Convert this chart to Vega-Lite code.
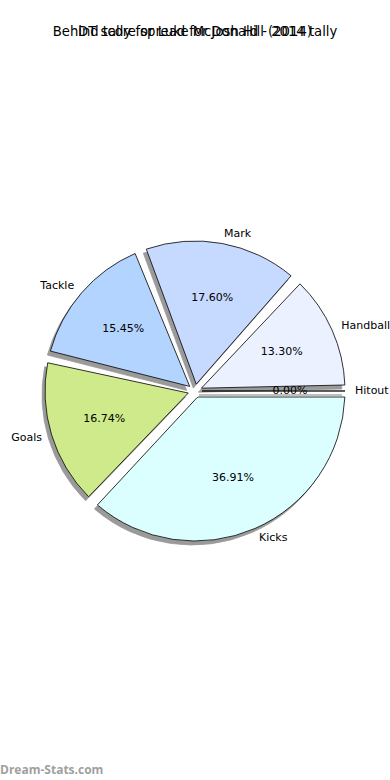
{
  "$schema": "https://vega.github.io/schema/vega-lite/v6.json",
  "padding": {"top": 24, "left": 0, "right": 0, "bottom": 0},
  "autosize": {"type": "pad"},
  "background": "white",
  "title": {
    "text": "Behind tally for Luke McDonald - 2014 tally",
    "subtitle": "DT score spread for Josh Hill (2014)",
    "font": "DejaVu Sans",
    "subtitleFont": "DejaVu Sans",
    "fontSize": 13.2,
    "subtitleFontSize": 13.2,
    "fontWeight": "normal",
    "color": "black",
    "subtitleColor": "black",
    "subtitlePadding": -13.2,
    "anchor": "middle",
    "offset": 12
  },
  "datasets": {
    "slices": [
      {"category": "Handball", "value": 0.1330, "idx": 1},
      {"category": "Mark", "value": 0.1760, "idx": 2},
      {"category": "Tackle", "value": 0.1545, "idx": 3},
      {"category": "Goals", "value": 0.1674, "idx": 4},
      {"category": "Kicks", "value": 0.3691, "idx": 5},
      {"category": "Hitout", "value": 0.0, "idx": 6}
    ]
  },
  "vconcat": [
    {
      "width": 390,
      "height": 680,
      "data": {"name": "slices"},
      "title": {
        "text": "Dream-Stats.com",
        "orient": "bottom",
        "anchor": "start",
        "frame": "group",
        "font": "Open Sans",
        "fontSize": 12,
        "fontWeight": "bold",
        "color": "#a0a0a0",
        "offset": 34
      },
      "encoding": {
        "theta": {"field": "value", "type": "quantitative", "stack": true, "scale": {"domain": [0, 1], "range": [1.5708, -4.7124]}},
        "order": {"field": "idx", "type": "quantitative", "sort": "ascending"}
      },
      "layer": [
        {
          "mark": {"type": "arc", "radius": 150, "innerRadius": 7, "padAngle": 0.08, "fill": "#9a9a9a", "stroke": "#9a9a9a", "strokeWidth": 0.8, "xOffset": -3, "yOffset": 4},
          "encoding": {"detail": {"field": "category", "type": "nominal"}}
        },
        {
          "mark": {"type": "arc", "radius": 150, "innerRadius": 7, "padAngle": 0.08, "stroke": "black", "strokeWidth": 0.8},
          "encoding": {
            "color": {
              "field": "category",
              "type": "nominal",
              "legend": null,
              "scale": {
                "domain": ["Handball", "Mark", "Tackle", "Goals", "Kicks", "Hitout"],
                "range": ["#EBF1FE", "#C6D9FF", "#B3D4FF", "#CFEA8A", "#DBFFFE", "#EEEEEE"]
              }
            }
          }
        },
        {
          "mark": {"type": "text", "radius": 95, "font": "DejaVu Sans", "fontSize": 11, "color": "black", "align": "center", "baseline": "middle"},
          "encoding": {
            "detail": {"field": "category", "type": "nominal"},
            "text": {"field": "value", "type": "quantitative", "format": ".2%"}
          }
        },
        {
          "mark": {"type": "text", "radius": 160, "font": "DejaVu Sans", "fontSize": 11, "color": "black", "align": "left", "baseline": "middle"},
          "encoding": {
            "detail": {"field": "category", "type": "nominal"},
            "text": {"condition": {"test": "datum.category !== 'Tackle' && datum.category !== 'Goals'", "field": "category"}, "value": ""}
          }
        },
        {
          "mark": {"type": "text", "radius": 160, "font": "DejaVu Sans", "fontSize": 11, "color": "black", "align": "right", "baseline": "middle"},
          "encoding": {
            "detail": {"field": "category", "type": "nominal"},
            "text": {"condition": {"test": "datum.category === 'Tackle' || datum.category === 'Goals'", "field": "category"}, "value": ""}
          }
        }
      ]
    }
  ],
  "config": {
    "view": {"stroke": null},
    "concat": {"spacing": 0}
  }
}
